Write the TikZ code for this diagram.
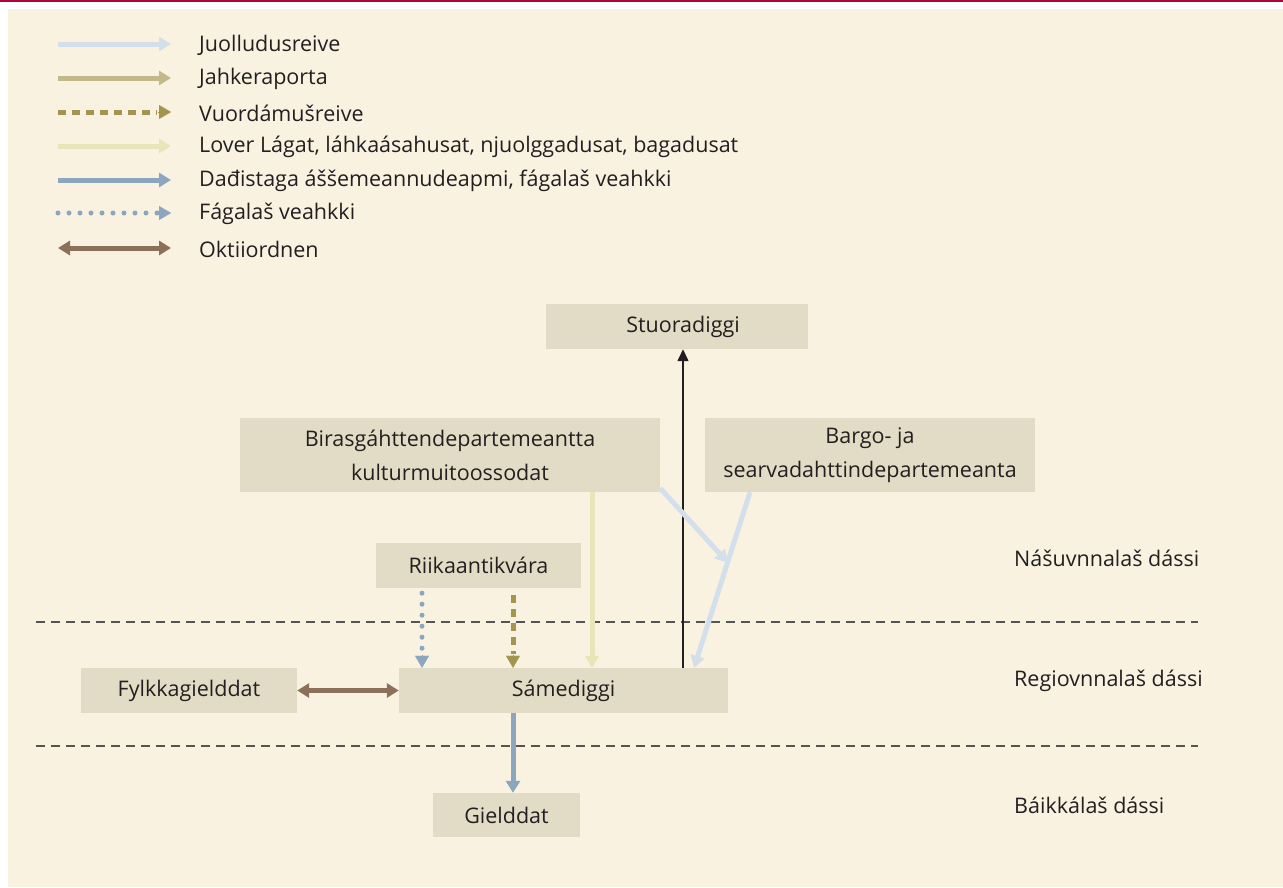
\documentclass[tikz,border=0pt]{standalone}
\usepackage{fontspec}
\setmainfont{Open Sans}
\usetikzlibrary{arrows.meta,calc}
\definecolor{bg}{HTML}{F9F2E1}
\definecolor{boxc}{HTML}{E2DCC6}
\definecolor{redl}{HTML}{B0053A}
\definecolor{txt}{HTML}{231F20}
\definecolor{cJuol}{HTML}{D3E0EC}
\definecolor{cJahk}{HTML}{C2B88A}
\definecolor{cVuor}{HTML}{A39550}
\definecolor{cLov}{HTML}{EAE5B8}
\definecolor{cDad}{HTML}{8BA6BD}
\definecolor{cOkt}{HTML}{8C7059}
\definecolor{sep}{HTML}{555555}
\begin{document}
\begin{tikzpicture}[x=1pt,y=-1pt,
  every node/.style={text=txt,font=\fontsize{21.5}{34}\selectfont},
  box/.style={fill=boxc,draw=none,inner sep=0pt,align=center},
  lbl/.style={anchor=west,inner sep=0pt},
  tip/.style={-{Triangle[length=12pt,width=14pt]}},
  thick5/.style={line width=5pt},
  juol/.style={tip,thick5,draw=cJuol,cJuol},
  jahk/.style={tip,thick5,draw=cJahk,cJahk},
  vuor/.style={thick5,draw=cVuor,dash pattern=on 8pt off 6pt},
  lov/.style={tip,thick5,draw=cLov,cLov},
  dad/.style={tip,thick5,draw=cDad,cDad},
  fag/.style={line width=5pt,draw=cDad,line cap=round,dash pattern=on 0pt off 11pt},
  okt/.style={{Triangle[length=12pt,width=14pt]}-{Triangle[length=12pt,width=14pt]},thick5,draw=cOkt,cOkt},
  sepl/.style={draw=sep,line width=1.1pt,dash pattern=on 9pt off 6pt}]
\useasboundingbox (0,0) rectangle (1283,887);
\fill[white] (0,0) rectangle (1283,887);
\fill[redl] (0,0) rectangle (1283,1.8);
\fill[bg] (8,9) rectangle (1283,887);

% legend
\foreach \i/\y in {1/44,2/78,3/112,4/146,5/180,6/213,7/248}{
  \coordinate (la\i) at (58,\y);
  \coordinate (lb\i) at (171,\y);
}
\draw[juol] (la1) -- (lb1);
\draw[jahk] (la2) -- (lb2);
\draw[vuor] (la3) -- ($(lb3)+(-14,0)$);
\draw[tip,line width=0.1pt,draw=cVuor,fill=cVuor] ($(lb3)+(-13,0)$) -- (lb3);
\draw[lov] (la4) -- (lb4);
\draw[dad] (la5) -- (lb5);
\draw[fag] (la6) -- ($(lb6)+(-12,0)$);
\draw[tip,line width=0.1pt,draw=cDad,fill=cDad] ($(lb6)+(-13,0)$) -- (lb6);
\draw[okt] (la7) -- (lb7);
\node[lbl] (t1) at (199,45) {Juolludusreive};
\node[lbl] (t2) at (199,79) {Jahkeraporta};
\node[lbl] (t3) at (199,113) {Vuordámušreive};
\node[lbl] (t4) at (199,147) {Lover Lágat, láhkaásahusat, njuolggadusat, bagadusat};
\node[lbl] (t5) at (199,181) {Dađistaga áššemeannudeapmi, fágalaš veahkki};
\node[lbl] (t6) at (199,214) {Fágalaš veahkki};
\node[lbl] (t7) at (199,249) {Oktiiordnen};

% separators
\coordinate (s1a) at (36,622); \coordinate (s1b) at (1198,622);
\coordinate (s2a) at (36,746); \coordinate (s2b) at (1198,746);
\draw[sepl] (s1a) -- (s1b);
\draw[sepl] (s2a) -- (s2b);

% level labels
\node[lbl] (lv1) at (1014,558) {Nášuvnnalaš dássi};
\node[lbl] (lv2) at (1014,681) {Regiovnnalaš dássi};
\node[lbl] (lv3) at (1014,805) {Báikkálaš dássi};

% boxes
\node[box,minimum width=262pt,minimum height=45pt] (stu) at (677,326.5) {\hspace*{12pt}Stuoradiggi};
\node[box,minimum width=420pt,minimum height=74pt] (bir) at (450,455) {Birasgáhttendepartemeantta\\kulturmuitoossodat};
\node[box,minimum width=330pt,minimum height=74pt] (bar) at (870,455) {Bargo- ja\\searvadahttindepartemeanta};
\node[box,minimum width=205pt,minimum height=45pt] (rii) at (478.5,565.5) {Riikaantikvára};
\node[box,minimum width=329pt,minimum height=45pt] (sam) at (563.5,690.5) {Sámediggi};
\node[box,minimum width=216pt,minimum height=45pt] (fyl) at (189,690.5) {Fylkkagielddat};
\node[box,minimum width=147pt,minimum height=44pt] (gie) at (506.5,815) {Gielddat};

% connectors
\draw[-{Triangle[length=12pt,width=11pt]},line width=1.4pt,draw=txt,fill=txt] (sam.north -| 683,0) -- (stu.south -| 683,0);
\draw[lov] (bir.south -| 592,0) -- (sam.north -| 592,0);
\coordinate (bs) at (bar.south -| 750,0);
\coordinate (se) at (sam.north -| 694,0);
\coordinate (jm) at ($(bs)!0.4!(se)$);
\draw[juol] ($(bir.south east)+(0,-4)$) -- (jm);
\draw[juol] (bs) -- (se);
\draw[fag] ($(rii.south -| 422,0)+(0,5)$) -- ($(sam.north -| 422,0)+(0,-18)$);
\draw[tip,line width=0.1pt,draw=cDad,fill=cDad] ($(sam.north -| 422,0)+(0,-13)$) -- (sam.north -| 422,0);
\draw[vuor] ($(rii.south -| 513,0)+(0,7)$) -- ($(sam.north -| 513,0)+(0,-14)$);
\draw[tip,line width=0.1pt,draw=cVuor,fill=cVuor] ($(sam.north -| 513,0)+(0,-13)$) -- (sam.north -| 513,0);
\draw[okt] (fyl.east) -- (sam.west);
\draw[dad] (sam.south -| 513,0) -- (gie.north -| 513,0);
\end{tikzpicture}
\end{document}
